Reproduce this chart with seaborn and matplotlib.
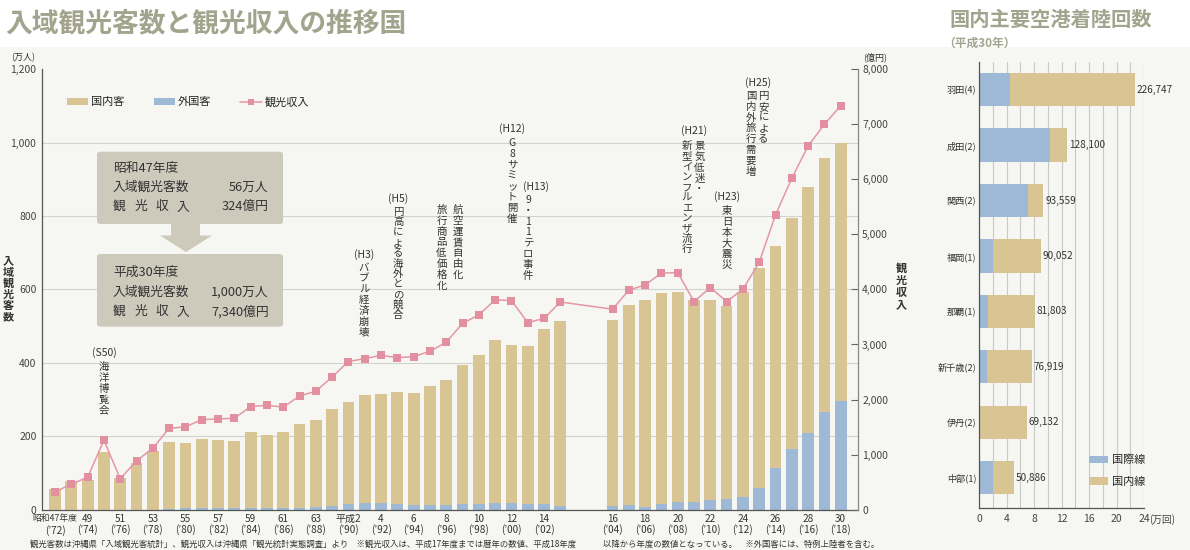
import numpy as np
import pandas as pd
import seaborn as sns
import matplotlib.pyplot as plt
from matplotlib.patches import Patch, FancyBboxPatch, Polygon, Rectangle
from matplotlib.lines import Line2D
from matplotlib.ticker import FuncFormatter

# ---- data ----
years = list(range(1972, 2004)) + list(range(2004, 2019))
total = [56, 78, 81, 158, 87, 128, 161, 185, 182, 193, 190, 188, 212, 203, 212, 232,
         243, 274, 294, 312, 316, 320, 318, 338, 353, 394, 422, 462, 448, 447, 492, 514,
         517, 558, 571, 591, 594, 570, 571, 554, 592, 658, 718, 794, 880, 958, 1000]
foreign = [0, 0, 0, 0, 0, 0, 0, 2, 4, 5, 5, 5, 5, 5, 5, 5,
           6, 11, 15, 18, 18, 15, 13, 12, 13, 16, 15, 19, 18, 16, 15, 9,
           10, 12, 7, 16, 21, 21, 25, 28, 35, 60, 114, 164, 210, 267, 296]
revenue = [324, 460, 590, 1260, 560, 887, 1115, 1478, 1502, 1635, 1647, 1660, 1871, 1896, 1860, 2065,
           2150, 2411, 2690, 2744, 2803, 2762, 2778, 2877, 3041, 3384, 3538, 3811, 3798, 3398, 3474, 3772,
           3641, 3987, 4084, 4296, 4307, 3780, 4035, 3780, 4005, 4492, 5355, 6020, 6607, 7000, 7340]
tick_top = ["昭和47年度", "49", "51", "53", "55", "57", "59", "61", "63", "平成2", "4", "6",
            "8", "10", "12", "14", "16", "18", "20", "22", "24", "26", "28", "30"]
tick_bot = ["(’72)", "(’74)", "(’76)", "(’78)", "(’80)", "(’82)", "(’84)", "(’86)", "(’88)",
            "(’90)", "(’92)", "(’94)", "(’96)", "(’98)", "(’00)", "(’02)", "(’04)", "(’06)",
            "(’08)", "(’10)", "(’12)", "(’14)", "(’16)", "(’18)"]

airports = ["羽田(4)", "成田(2)", "関西(2)", "福岡(1)", "那覇(1)", "新千歳(2)", "伊丹(2)", "中部(1)"]
landings = [226747, 128100, 93559, 90052, 81803, 76919, 69132, 50886]
intl = [4.46, 10.28, 7.13, 2.04, 1.31, 1.21, 0.0, 2.04]   # 万回

TAN = "#D9C494"
BLUE = "#9DB9D6"
PINK = "#E597A6"
BG = "#F6F6F2"
BOX = "#CDC9BB"
GRID = "#D3D3CE"
TXT = "#333333"

sns.set_theme(style="white")
plt.rcParams['font.family'] = ['Noto Sans CJK JP', 'DejaVu Sans']

W, H = 1190, 550
fig = plt.figure(figsize=(W / 100, H / 100), dpi=100, facecolor="white")
fig.patches.append(Rectangle((0, 0), 1, 1 - 47 / H, transform=fig.transFigure,
                             facecolor=BG, edgecolor="none", zorder=-10))

def fx(px):
    return px / W

def fy(py):
    return 1 - py / H

# gap of the missing year 2003/2004 break
GAP = 2.2
pos = [i if y <= 2003 else i + GAP for i, y in enumerate(years)]
df = pd.DataFrame({"pos": pos, "total": total, "foreign": foreign, "revenue": revenue})

ax = fig.add_axes([fx(42), fy(509.6), (858 - 42) / W, (509.6 - 69.3) / H])
ax.set_facecolor("none")
sns.barplot(data=df, x="pos", y="total", native_scale=True, color=TAN, width=0.72,
            errorbar=None, saturation=1, linewidth=0, ax=ax)
sns.barplot(data=df, x="pos", y="foreign", native_scale=True, color=BLUE, width=0.72,
            errorbar=None, saturation=1, linewidth=0, ax=ax)
ax.set_xlim(-0.8, 49.26)
ax.set_ylim(0, 1200)
ax.set_yticks(range(0, 1201, 200))
ax.yaxis.set_major_formatter(FuncFormatter(lambda v, p: f"{v:,.0f}"))
ax.set_xticks(pos[::2])
labels = [f"{a}\n{b}" for a, b in zip(tick_top, tick_bot)]
labels[0] = ""   # first era label is drawn separately, smaller
ax.set_xticklabels(labels, fontsize=7.2, color=TXT, linespacing=1.05)
ax.annotate(tick_top[0], xy=(pos[0], 0), xycoords=("data", "axes fraction"), xytext=(0, -3),
            textcoords="offset points", ha="center", va="top", fontsize=6.3, color=TXT)
ax.annotate(tick_bot[0], xy=(pos[0], 0), xycoords=("data", "axes fraction"), xytext=(0, -14.8),
            textcoords="offset points", ha="center", va="center", fontsize=7.2, color=TXT)
ax.tick_params(axis="y", length=0, pad=4, labelsize=7.5, labelcolor="#444")
ax.tick_params(axis="x", length=0, pad=3)
ax.set_xlabel("")
ax.set_ylabel("")
ax.set_axisbelow(True)
ax.grid(axis="y", color=GRID, lw=0.8)
ax.get_ygridlines()[-1].set_visible(False)
for s in ["top", "right"]:
    ax.spines[s].set_visible(False)
for s in ["left", "bottom"]:
    ax.spines[s].set_color("#555555")
    ax.spines[s].set_linewidth(0.9)

ax2 = ax.twinx()
sns.lineplot(data=df, x="pos", y="revenue", ax=ax2, color=PINK, lw=1.1, marker="s",
             markersize=5.5, markeredgewidth=0, markerfacecolor="#E28FA0")
ax2.set_ylim(0, 8000)
ax2.set_yticks(range(0, 8001, 1000))
ax2.yaxis.set_major_formatter(FuncFormatter(lambda v, p: f"{v:,.0f}"))
ax2.tick_params(axis="y", direction="in", length=5, width=0.8, color="#666", pad=3,
                labelsize=7.5, labelcolor="#444")
ax2.set_ylabel("")
ax2.set_xlabel("")
for s in ["top", "left", "bottom"]:
    ax2.spines[s].set_visible(False)
ax2.spines["right"].set_color("#888888")
ax2.spines["right"].set_linewidth(0.9)

# legend
hd = [Patch(facecolor=TAN, edgecolor="none"), Patch(facecolor=BLUE, edgecolor="none"),
      Line2D([0], [0], color=PINK, lw=1.1, marker="s", markersize=5, markeredgewidth=0,
             markerfacecolor="#E28FA0")]
ax2.legend(hd, ["国内客", "外国客", "観光収入"], loc="center left", ncol=3, frameon=False,
           bbox_to_anchor=(fx(67), fy(102)), bbox_transform=fig.transFigure,
           fontsize=8, handlelength=1.9, handleheight=0.6, handletextpad=0.3,
           columnspacing=2.6, borderpad=0, borderaxespad=0)

# axis unit texts
fig.text(fx(23.5), fy(57.5), "(万人)", ha="center", va="center", fontsize=6.5, color=TXT)
fig.text(fx(875.5), fy(57.5), "(億円)", ha="center", va="center", fontsize=6.5, color=TXT)

def vtext(xp, yp, s, step=10.8, size=7.5, weight="normal"):
    for k, ch in enumerate(s):
        fig.text(fx(xp), fy(yp + k * step), ch, ha="center", va="center",
                 fontsize=size, color=TXT, fontweight=weight)

vtext(8, 261, "入域観光客数", step=11.2, size=8, weight="bold")
vtext(901, 268, "観光収入", step=12.2, size=8, weight="bold")

# event notes
notes = [
    (104, 353, "(S50)", [(104, 367, "海洋博覧会")]),
    (364, 255, "(H3)", [(364, 268, "バブル経済崩壊")]),
    (398, 199, "(H5)", [(398, 212, "円高による海外との競合")]),
    (None, None, None, [(457.5, 210, "航空運賃自由化"), (441.5, 210, "旅行商品低価格化")]),
    (512, 129, "(H12)", [(512, 143, "G8サミット開催")]),
    (536, 187, "(H13)", [(528, 200, "9・11テロ事件")]),
    (694, 131, "(H21)", [(699.5, 146, "景気低迷・"), (687, 146, "新型インフルエンザ流行")]),
    (727, 197, "(H23)", [(727, 211, "東日本大震災")]),
    (758, 83, "(H25)", [(763.5, 96, "円安による"), (751, 96, "国内外旅行需要増")]),
]
for xp, yp, head, cols in notes:
    if head:
        fig.text(fx(xp), fy(yp), head, ha="center", va="center", fontsize=7.5, color=TXT)
    for cx, cy, s in cols:
        n = len(s)
        step = 10.8 if n < 10 else 10.3
        vtext(cx, cy, s, step=step)

# info boxes
for y0, y1 in [(151.7, 224), (254, 326.7)]:
    fig.patches.append(FancyBboxPatch((fx(97), fy(y1)), fx(283) - fx(97), fy(y0) - fy(y1),
                                      boxstyle="round,pad=0,rounding_size=0.004",
                                      transform=fig.transFigure, facecolor=BOX,
                                      edgecolor="none", zorder=5))
arrow = [(171, 224), (200, 224), (200, 235.5), (212, 235.5), (186, 252), (160, 235.5), (171, 235.5)]
fig.patches.append(Polygon([(fx(a), fy(b)) for a, b in arrow], closed=True,
                           transform=fig.transFigure, facecolor=BOX, edgecolor="none", zorder=5))
box_rows = [
    (168.3, "昭和47年度", ""), (187.3, "入域観光客数", "56万人"), (206.7, None, "324億円"),
    (272.7, "平成30年度", ""), (292.3, "入域観光客数", "1,000万人"), (311.7, None, "7,340億円"),
]
for yp, left, right in box_rows:
    if left is None:
        for k, ch in enumerate("観光収入"):
            fig.text(fx(113 + k * 21.3), fy(yp), ch, ha="left", va="center", fontsize=9.2,
                     color=TXT, zorder=6)
    else:
        fig.text(fx(113), fy(yp), left, ha="left", va="center", fontsize=9.2, color=TXT, zorder=6)
    if right:
        fig.text(fx(268.5), fy(yp), right, ha="right", va="center", fontsize=9.2, color=TXT, zorder=6)

# titles and footer
fig.text(fx(5), fy(23), "入域観光客数と観光収入の推移国", ha="left", va="center",
         fontsize=19.3, fontweight="bold", color="#A3A48D")
fig.text(fx(949), fy(19), "国内主要空港着陸回数", ha="left", va="center",
         fontsize=14.6, fontweight="bold", color="#A3A48D")
fig.text(fx(943), fy(43), "（平成30年）", ha="left", va="center",
         fontsize=8.5, fontweight="bold", color="#A3A48D")
fig.text(fx(30), fy(544), "観光客数は沖縄県「入域観光客統計」、観光収入は沖縄県「観光統計実態調査」より　"
         "※観光収入は、平成17年度までは暦年の数値、平成18年度", ha="left", va="center",
         fontsize=6, color=TXT)
fig.text(fx(603), fy(544), "以降から年度の数値となっている。　※外国客には、特例上陸者を含む。",
         ha="left", va="center", fontsize=6, color=TXT)

# ---- right panel: airports ----
adf = pd.DataFrame({"airport": airports, "total": np.array(landings) / 10000, "intl": intl})
axr = fig.add_axes([fx(979), fy(508), 165 / W, (508 - 62) / H])
axr.set_facecolor("none")
sns.barplot(data=adf, y="airport", x="total", orient="h", color=TAN, width=0.6,
            errorbar=None, saturation=1, linewidth=0, ax=axr)
sns.barplot(data=adf, y="airport", x="intl", orient="h", color=BLUE, width=0.6,
            errorbar=None, saturation=1, linewidth=0, ax=axr)
for i, v in enumerate(landings):
    axr.text(v / 10000 + 0.25, i, f"{v:,}", ha="left", va="center", fontsize=7.2, color=TXT)
axr.set_xlim(0, 24)
axr.set_ylim(7.55, -0.5)
axr.set_xticks(range(0, 25, 4))
axr.set_xticks(range(0, 25, 2), minor=True)
axr.set_axisbelow(True)
axr.grid(axis="x", which="both", color="#CACAC5", lw=0.8)
axr.tick_params(axis="x", which="major", length=2.5, width=0.7, color="#555", pad=2,
                labelsize=7.5, labelcolor="#444")
axr.tick_params(axis="x", which="minor", length=0)
axr.tick_params(axis="y", length=0, pad=2, labelsize=6.6, labelcolor=TXT)
axr.set_xlabel("")
axr.set_ylabel("")
for s in ["top", "right"]:
    axr.spines[s].set_visible(False)
for s in ["left", "bottom"]:
    axr.spines[s].set_color("#555555")
    axr.spines[s].set_linewidth(0.9)
axr.annotate("(万回)", xy=(24, 0), xycoords=("data", "axes fraction"), xytext=(4, -4.5),
             textcoords="offset points", ha="left", va="top", fontsize=7, color="#444")
axr.legend([Patch(facecolor=BLUE, edgecolor="none"), Patch(facecolor=TAN, edgecolor="none")],
           ["国際線", "国内線"], loc="upper left", frameon=False,
           bbox_to_anchor=(fx(1089), fy(455)), bbox_transform=fig.transFigure,
           fontsize=8, handlelength=1.75, handleheight=0.7, handletextpad=0.3,
           labelspacing=1.0, borderpad=0, borderaxespad=0)

fig.savefig("out.png", dpi=100, facecolor="white")
